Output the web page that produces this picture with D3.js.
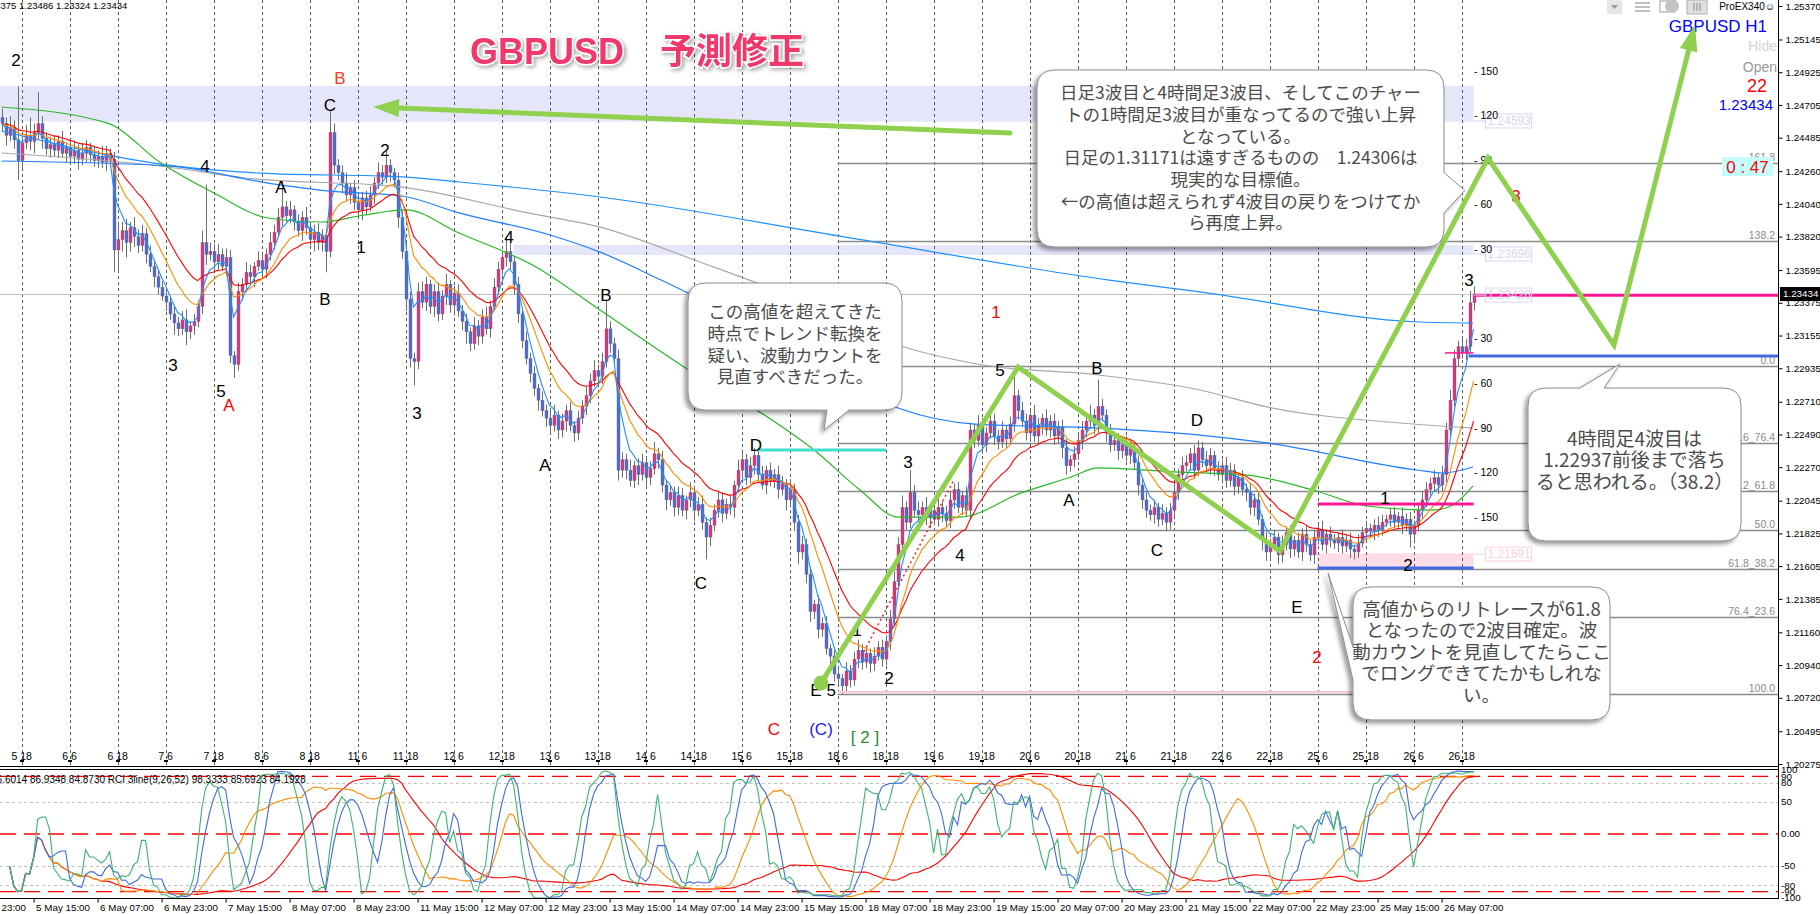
<!DOCTYPE html>
<html><head><meta charset="utf-8">
<script src="https://d3js.org/d3.v7.min.js"></script>
<style>
html,body{margin:0;padding:0;background:#fff;overflow:hidden}
svg{display:block}
</style></head><body>
<svg id="chart" width="1820" height="914"></svg>
<script>
// ---------------- DATA ----------------
const priceTicks = [1.25370,1.25145,1.24925,1.24705,1.24485,1.24260,1.24040,1.23820,1.23595,1.23375,1.23155,1.22935,1.22710,1.22490,1.22270,1.22045,1.21825,1.21605,1.21385,1.21160,1.20940,1.20720,1.20495,1.20275];
const mainTimeLabels = ["5 18","6 6","6 18","7 6","7 18","8 6","8 18","11 6","11 18","12 6","12 18","13 6","13 18","14 6","14 18","15 6","15 18","18 6","18 18","19 6","19 18","20 6","20 18","21 6","21 18","22 6","22 18","25 6","25 18","26 6","26 18"];
const bottomTimeLabels = ["4 May 23:00","5 May 15:00","6 May 07:00","6 May 23:00","7 May 15:00","8 May 07:00","8 May 23:00","11 May 15:00","12 May 07:00","12 May 23:00","13 May 15:00","14 May 07:00","14 May 23:00","15 May 15:00","18 May 07:00","18 May 23:00","19 May 15:00","20 May 07:00","20 May 23:00","21 May 15:00","22 May 07:00","22 May 23:00","25 May 15:00","26 May 07:00"];

// hourly closes, pips above 1.2000
const firstOpen = 462;
const closePips = [
458,450,455,447,433,445,450,446,452,458,448,441,
444,440,446,438,442,436,440,434,438,442,437,433,
436,432,438,434,373,380,386,378,388,382,376,384,
370,362,355,348,342,338,330,324,320,326,318,322,
325,335,378,370,372,365,370,362,368,302,296,345,
350,358,355,362,366,360,370,378,385,395,402,396,
400,392,386,395,388,380,385,378,383,372,452,430,
425,418,410,415,405,400,408,402,410,418,425,422,
430,425,420,395,372,340,300,298,345,338,350,335,
345,330,342,350,336,344,332,325,318,310,322,315,
328,320,335,348,360,368,372,365,350,330,312,300,
290,280,272,265,260,255,262,252,258,265,255,250,
260,268,275,285,292,288,298,320,310,300,225,232,
225,218,228,222,230,220,226,236,232,215,205,210,
200,208,198,205,210,198,202,190,180,188,198,205,
196,202,200,215,225,232,220,228,235,222,215,225,
218,222,212,216,205,212,190,170,175,155,130,135,
118,122,105,100,88,85,80,90,84,98,104,96,
102,95,100,106,98,110,125,150,175,200,190,210,
198,195,200,193,198,192,200,196,191,205,212,200,
208,198,252,245,255,242,250,258,248,244,252,246,
256,275,265,258,250,262,248,255,260,252,258,248,
254,240,228,232,236,245,252,258,262,255,268,262,
250,242,245,238,242,235,240,230,215,205,198,195,
200,192,196,190,198,210,222,228,230,236,225,240,
232,228,235,226,222,228,218,225,214,220,212,210,
200,205,192,178,170,175,180,168,175,183,172,178,
170,182,175,168,180,185,175,182,178,176,180,174,
178,172,170,176,183,186,184,188,185,190,192,195,
190,194,188,192,182,188,198,205,212,216,220,215,
222,252,272,300,308,304,308,337.5,343.4];
// upper / lower wick lengths in pips
const upWick = [
6,4,8,5,36,5,7,12,6,21,5,4, 5,6,4,7,3,5,6,4,7,5,3,6, 4,7,5,3,5,12,6,8,4,7,5,6,
4,6,3,5,4,6,3,5,4,6,7,3, 5,4,8,39,6,5,7,4,6,5,3,6, 4,7,5,3,6,5,4,7,5,6,18,4,
6,3,5,4,7,3,5,6,4,3,15,6, 4,5,7,3,5,6,4,5,6,4,7,5, 10,4,3,5,4,6,5,4,6,7,5,3,
5,6,4,7,3,5,6,4,5,3,6,4, 5,7,4,6,5,4,10,6,4,5,3,6, 4,5,3,6,4,5,7,3,5,4,6,3,
5,4,6,5,7,4,6,19,5,4,6,5, 4,7,3,5,6,4,5,8,4,6,3,5, 4,6,5,3,7,4,5,6,3,5,4,6,
5,4,6,3,7,5,4,6,5,4,6,3, 5,4,6,5,3,7,4,5,6,4,5,3, 6,4,5,3,4,5,3,6,4,5,7,4,
5,3,6,4,5,4,6,7,5,8,4,15, 5,6,4,7,3,5,6,4,5,6,4,5, 3,6,5,4,7,5,4,6,5,4,6,3,
5,18,4,6,5,4,7,5,3,6,4,5, 4,5,6,3,5,4,6,5,7,4,18,5, 4,6,3,5,4,6,5,3,5,4,6,4,
5,3,6,4,5,7,4,6,5,4,6,5, 4,6,5,3,5,4,6,5,4,3,5,4, 6,4,5,3,6,4,5,3,6,4,5,3,
5,4,6,3,5,4,6,3,5,4,3,5, 4,5,3,6,4,5,3,4,6,5,3,4, 5,3,6,4,5,3,4,6,5,4,5,3,
6,5,7,6,4,6,5,8,5.2];
const dnWick = [
5,7,4,6,13,5,4,6,8,5,7,4, 6,4,5,3,6,4,5,7,4,6,5,4, 5,4,6,5,15,14,8,10,6,7,5,4,
6,4,7,5,3,6,4,8,5,4,9,5, 6,4,5,7,4,6,5,3,6,5,9,4, 6,5,4,7,3,5,6,4,5,3,6,4,
5,6,4,7,5,4,8,5,6,14,4,6, 5,7,4,6,5,4,7,5,3,6,4,5, 4,6,5,7,5,8,6,16,5,4,6,5,
7,5,4,6,5,7,4,6,8,5,4,6, 5,4,6,3,5,4,6,5,7,6,5,4, 6,5,7,4,6,5,4,6,5,7,4,6,
5,4,6,5,4,6,5,4,6,5,7,5, 6,4,5,7,4,6,5,4,6,5,7,4, 6,5,4,6,5,7,4,5,15,6,4,5,
6,4,5,7,4,6,5,4,6,5,3,6, 4,5,6,4,7,5,6,8,5,6,7,5, 6,5,4,6,5,4,6,4,5,4,6,5,
4,6,5,3,5,4,6,5,4,6,5,4, 5,6,4,5,7,4,5,6,4,5,6,4, 5,4,6,5,4,6,5,4,6,5,4,6,
4,5,6,4,5,6,4,5,6,4,5,6, 5,7,6,4,5,4,6,5,4,6,5,4, 6,5,4,6,5,4,6,5,7,6,5,4,
6,5,4,6,5,4,5,6,4,5,6,4, 5,4,6,5,4,6,5,4,6,5,4,6, 5,6,4,7,6,5,4,6,5,4,6,5,
4,6,5,4,6,5,4,6,5,4,6,5, 4,6,5,4,3,5,4,6,5,4,3,5, 4,5,6,4,9,5,4,6,5,4,5,6,
4,5,6,4,5,4,5,4,5.1];

// long moving averages: [bar, pips]
const maGreen = [[0,469.1],[26.35,458.4],[39.85,431.5],[53.1,411.3],[66.6,394.5],[79.85,391.8],[90.6,396.5],[101.1,399.9],[114.35,384.4],[133.6,361.6],[149.6,332.7],[172.6,291.0],[192.6,258.7],[203.1,238.6],[214.6,211.7],[224.1,193.5],[239.6,193.5],[254.85,209.7],[267.35,220.4],[274.1,226.5],[293.1,223.8],[311.35,221.7],[327.85,211.7],[341.35,200.9],[357.85,198.2],[362.85,201.6],[367.85,214.4]];
const maGray = [[0,438.2],[41.6,428.8],[60.85,421.4],[100.1,415.3],[131.6,397.9],[149.6,388.4],[174.6,364.9],[199.6,339.4],[224.1,309.1],[245.35,295.7],[274.1,289.0],[299.6,278.9],[316.35,267.5],[349.6,256.7],[367.85,253.3]];
const maBlueUpper = [[0,453.0],[41.6,430.1],[64.6,424.7],[100.1,422.1],[114.35,418.7],[149.6,408.6],[212.1,381.1],[276.85,352.8],[299.6,344.8],[354.6,324.6],[367.85,323.9]];
const maBlueLower = [[0,432.8],[41.6,429.5],[66.6,418.0],[82.1,412.6],[100.1,409.3],[114.35,397.9],[137.1,383.1],[149.6,371.6],[164.85,352.8],[172.6,342.7],[199.6,303.1],[224.1,266.8],[243.35,256.0],[274.6,253.3],[299.6,248.6],[316.35,243.3],[353.85,225.1],[360.35,223.1],[367.85,227.1]];

// Fibonacci retracement
const fib = {bar0:209, low:74.5, high:295.0};
const fibLevels = [{r:0,label:"100.0"},{r:0.236,label:"76.4_23.6"},{r:0.382,label:"61.8_38.2"},{r:0.5,label:"50.0"},{r:0.618,label:"38.2_61.8"},{r:0.764,label:"23.6_76.4"},{r:1,label:"0.0"},{r:1.382,label:"138.2"},{r:1.618,label:"161.8"}];

// rectangles (bar range, price range in pips)
const bands = [
  {b0:-2, b1:368, top:483.2, bottom:459.3, color:"#e6e6fa"},
  {b0:128, b1:368, top:376.4, bottom:369.6, color:"#e6e6fa"},
  {b0:328.85, b1:368, top:169.1, bottom:159.2, color:"#ffdde6"}
];
// horizontal lines (b1 null -> to price axis)
const hLines = [
  {b0:209.1, b1:368, v:75.9, color:"#ffcad8", w:2},
  {b0:188.85, b1:221.1, v:238.6, color:"#40e0d0", w:3},
  {b0:329, b1:368, v:202.3, color:"#ff1493", w:3},
  {b0:329, b1:368, v:159.2, color:"#4169e1", w:3},
  {b0:360.85, b1:368, v:303.8, color:"#ff1493", w:1.5},
  {b0:366.85, b1:null, v:301.7, color:"#4169e1", w:3},
  {b0:368, b1:null, v:342.6, color:"#ff1493", w:3}
];
const priceBoxes = [
  {text:"1.24593", v:459.7, color:"#d6d6f3"},
  {text:"1.23696", v:370.3, color:"#d6d6f3"},
  {text:"1.23426", v:342.7, color:"#d6d6f3"},
  {text:"1.21691", v:168.6, color:"#ffd0dc"}
];
const pipOffsets = [150,120,90,60,30,-30,-60,-90,-120,-150];

// wave count labels: text, bar, pips, colour
const waveLabels = [
  ["2",3.6,500.7,"#000"],["B",84.6,488.6,"#ff3a1a"],["C",82.1,470.5,"#000"],["4",50.85,429.5,"#000"],
  ["A",69.85,415.3,"#000"],["2",95.85,440.2,"#000"],["1",89.85,375.0,"#000"],["B",80.85,340.1,"#000"],
  ["3",42.85,295.7,"#000"],["5",54.85,278.2,"#000"],["A",56.85,268.8,"#ff0000"],["4",126.85,381.7,"#000"],
  ["3",103.85,263.4,"#000"],["A",135.85,228.5,"#000"],["B",151.1,342.7,"#000"],["C",174.85,149.2,"#000"],
  ["D",188.6,241.9,"#000"],["1",248.6,331.3,"#ff0000"],["5",249.6,292.3,"#000"],["B",273.85,293.7,"#000"],
  ["3",226.6,230.5,"#000"],["4",239.6,168.0,"#000"],["A",266.85,205.0,"#000"],["C",288.85,171.3,"#000"],
  ["D",298.85,258.7,"#000"],["1",213.85,117.6,"#000"],["2",221.85,85.3,"#000"],["E",203.6,77.2,"#000"],
  ["5",207.4,77.2,"#000"],["E",323.85,133.0,"#000"],["2",328.85,99.4,"#ff0000"],["1",345.85,206.3,"#000"],
  ["2",351.6,161.2,"#000"],["3",366.85,352.8,"#000"],["3",378.6,409.3,"#ff0000"],
  ["C",193.1,51.0,"#ff0000"],["(C)",204.85,51.0,"#2020ff"],["[ 2 ]",215.85,45.6,"#2e8b2e"]
];

// projected wave path and arrow (bar, pips)
const wavePath = [[204.85,81.9],[254.1,294.3],[319.6,170.6],[371.6,434.8],[403.1,309.1],[423.35,524.2]];
const arrowLeft = [[252.1,451.6],[92.85,469.1]];
const dottedTrend = [[215,100],[238,218]];

// speech bubbles
const callouts = [
  {box:[258.85,494.0,360.6,375.0], side:"right", a:425.0, b:398.0, tip:[365.8,413.0], fs:17.5, top:23, lh:21.7,
   lines:["日足3波目と4時間足3波目、そしてこのチャー","トの1時間足3波目が重なってるので強い上昇","となっている。","日足の1.31171は遠すぎるものの\u30001.24306は","現実的な目標値。","←の高値は超えられず4波目の戻りをつけてか","ら再度上昇。"]},
  {box:[171.6,350.8,225.1,265.4], side:"bottom", a:206.35, b:211.85, tip:[205.6,252.0], fs:17.5, top:29, lh:21.7,
   lines:["この高値を超えてきた","時点でトレンド転換を","疑い、波動カウントを","見直すべきだった。"]},
  {box:[381.6,280.2,434.85,177.4], side:"top", a:394.6, b:400.6, tip:[404.6,296.4], fs:19, top:51, lh:21.5,
   lines:["4時間足4波目は","1.22937前後まで落ち","ると思われる。（38.2）"]},
  {box:[337.85,146.5,402.1,57.1], side:"left", a:106.1, b:83.9, tip:[331.6,155.9], fs:18.5, top:22, lh:21.5,
   lines:["高値からのリトレースが61.8","となったので2波目確定。波","動カウントを見直してたらここ","でロングできてたかもしれな","い。"]}
];

// ---------------- SETUP ----------------
const FONT = '"Liberation Sans", Arial, sans-serif';
const JP = '"Noto Sans CJK JP", "Noto Sans CJK SC", sans-serif';
const AX = 1778;
const P = v => 1.2 + v/10000;
const x = d3.scaleLinear().domain([0,368]).range([1.6,1473.6]);
const y = d3.scaleLinear().domain([1.20275,1.25370]).range([764,6]);
const yp = v => y(P(v));
const ry = d3.scaleLinear().domain([-100,100]).range([898,770]);

const svg = d3.select('#chart');
const defs = svg.append('defs');
defs.append('clipPath').attr('id','mainClip').append('rect').attr('x',0).attr('y',0).attr('width',AX).attr('height',766);
defs.append('clipPath').attr('id','indClip').append('rect').attr('x',0).attr('y',770).attr('width',AX).attr('height',128);
const f1 = defs.append('filter').attr('id','bubbleShadow').attr('x','-10%').attr('y','-10%').attr('width','125%').attr('height','130%');
f1.append('feDropShadow').attr('dx',-3).attr('dy',3).attr('stdDeviation',2).attr('flood-color','#000').attr('flood-opacity',0.4);
const f2 = defs.append('filter').attr('id','titleShadow').attr('x','-10%').attr('y','-30%').attr('width','120%').attr('height','170%');
f2.append('feDropShadow').attr('dx',2).attr('dy',2).attr('stdDeviation',2).attr('flood-color','#000').attr('flood-opacity',0.35);

const bars = closePips.map((c,i)=>{
  const o = i ? closePips[i-1] : firstOpen;
  return {i, o:P(o), c:P(c), h:P(Math.max(o,c)+upWick[i]), l:P(Math.min(o,c)-dnWick[i])};
});
const closes = bars.map(b=>b.c);
function ema(arr,n){const k=2/(n+1);let e=arr[0];return arr.map((v,i)=>{e=i?v*k+e*(1-k):v;return e;});}
function rci(vals,n){
  return vals.map((_,t)=>{
    const m=Math.min(n,t+1); if(m<3) return null;
    const w=vals.slice(t-m+1,t+1);
    const idx=w.map((v,j)=>j).sort((a,b)=>w[b]-w[a]);
    const pr=new Array(m); let k=0;
    while(k<m){let k2=k;while(k2+1<m&&w[idx[k2+1]]===w[idx[k]])k2++;const r=(k+k2)/2+1;for(let q=k;q<=k2;q++)pr[idx[q]]=r;k=k2+1;}
    let s=0; for(let j=0;j<m;j++){const dr=m-j;s+=(dr-pr[j])**2;}
    return (1-6*s/(m*(m*m-1)))*100;
  });
}

// ---------------- MAIN PANEL ----------------
const main = svg.append('g').attr('clip-path','url(#mainClip)');
main.selectAll('rect.band').data(bands).join('rect')
  .attr('x',d=>x(d.b0)).attr('width',d=>x(d.b1)-x(d.b0))
  .attr('y',d=>yp(d.top)).attr('height',d=>yp(d.bottom)-yp(d.top)).attr('fill',d=>d.color);

const mainTicks = mainTimeLabels.map((_,k)=>5+12*k);
main.selectAll('line.vg').data(mainTicks).join('line')
  .attr('x1',d=>Math.round(x(d))+0.5).attr('x2',d=>Math.round(x(d))+0.5)
  .attr('y1',0).attr('y2',766).attr('stroke','#5a5a5a').attr('stroke-dasharray','3,3');

// fib
const fibG = main.append('g');
fibLevels.forEach(f=>{
  const yy = Math.round(yp(fib.low + f.r*(fib.high-fib.low)))+0.5;
  fibG.append('line').attr('x1',x(fib.bar0)).attr('x2',AX).attr('y1',yy).attr('y2',yy).attr('stroke','#8a8a8a').attr('stroke-width',1.3);
  fibG.append('text').attr('x',AX-3).attr('y',yy-3).attr('text-anchor','end').attr('font-family',FONT).attr('font-size',10.5).attr('fill','#8a8a8a').text(f.label);
});

// bid line
const bid = closePips[closePips.length-1];
main.append('line').attr('x1',0).attr('x2',AX).attr('y1',Math.round(yp(bid))+0.5).attr('y2',Math.round(yp(bid))+0.5).attr('stroke','#c4c4c4');

// candles
main.selectAll('line.wick').data(bars).join('line')
  .attr('x1',d=>Math.round(x(d.i))+0.5).attr('x2',d=>Math.round(x(d.i))+0.5)
  .attr('y1',d=>y(d.h)).attr('y2',d=>y(d.l)).attr('stroke','#6e6e6e').attr('stroke-width',1);
main.selectAll('rect.body').data(bars).join('rect')
  .attr('x',d=>Math.round(x(d.i))-1).attr('width',3)
  .attr('y',d=>y(Math.max(d.o,d.c))).attr('height',d=>Math.max(1,Math.abs(y(d.o)-y(d.c))))
  .attr('fill',d=>d.c>=d.o?'#d93482':'#4b6bd0').attr('stroke','#6e6e6e').attr('stroke-width',0.4);

// long MAs
const lineBP = d3.line().x(d=>x(d[0])).y(d=>yp(d[1])).curve(d3.curveMonotoneX);
[[maGray,'#a8a8a8'],[maBlueUpper,'#1e90ff'],[maBlueLower,'#1e7fff'],[maGreen,'#28b828']].forEach(([arr,c])=>{
  main.append('path').attr('d',lineBP(arr)).attr('fill','none').attr('stroke',c).attr('stroke-width',1.2);
});
// short EMAs from closes
const lineIdx = d3.line().x((d,i)=>x(i)).y(d=>y(d));
[[21,'#ff0000'],[12,'#ff8c00'],[5,'#1e90ff']].forEach(([n,c])=>{
  main.append('path').attr('d',lineIdx(ema(closes,n))).attr('fill','none').attr('stroke',c).attr('stroke-width',1.1);
});

// horizontal objects
main.selectAll('line.hl').data(hLines).join('line')
  .attr('x1',d=>x(d.b0)).attr('x2',d=>d.b1===null?AX:x(d.b1))
  .attr('y1',d=>yp(d.v)).attr('y2',d=>yp(d.v)).attr('stroke',d=>d.color).attr('stroke-width',d=>d.w);
main.append('path').attr('d',d3.line().x(d=>x(d[0])).y(d=>yp(d[1]))(dottedTrend))
  .attr('stroke','#ff2020').attr('stroke-width',1.5).attr('stroke-dasharray','2,3').attr('fill','none');

// price boxes
priceBoxes.forEach(b=>{
  const yy=yp(b.v), x0=x(368)+12;
  main.append('line').attr('x1',x(368)).attr('x2',x0).attr('y1',yy).attr('y2',yy).attr('stroke',b.color);
  main.append('rect').attr('x',x0).attr('y',yy-7).attr('width',46).attr('height',14).attr('fill','none').attr('stroke',b.color);
  main.append('text').attr('x',x0+2).attr('y',yy).attr('dy','0.35em').attr('font-family',FONT).attr('font-size',12).attr('fill',b.color).text(b.text);
});
// pip distance labels
main.selectAll('text.pip').data(pipOffsets).join('text')
  .attr('x',x(368)+0.5).attr('y',d=>yp(bid+d)).attr('dy','0.35em')
  .attr('font-family',FONT).attr('font-size',10.5).attr('fill','#000')
  .text(d=>'- '+Math.abs(d));

// wave labels
main.selectAll('text.wl').data(waveLabels).join('text')
  .attr('x',d=>x(d[1])).attr('y',d=>yp(d[2])).attr('dy','0.36em').attr('text-anchor','middle')
  .attr('font-family',FONT).attr('font-size',17).attr('fill',d=>d[3]).text(d=>d[0]);

// main time labels
main.selectAll('text.mt').data(mainTicks).join('text')
  .attr('x',d=>x(d)).attr('y',756).attr('dy','0.35em').attr('text-anchor','middle')
  .attr('font-family',FONT).attr('font-size',10.5).attr('fill','#000')
  .text((d,i)=>mainTimeLabels[i]);
main.selectAll('rect.mtk').data(mainTicks).join('rect')
  .attr('x',d=>Math.round(x(d))-2).attr('y',760).attr('width',4).attr('height',2).attr('fill','#000');

// header
svg.append('text').attr('x',-18).attr('y',6).attr('dy','0.35em').attr('font-family',FONT).attr('font-size',9.5).attr('fill','#000').text('1.23375 1.23486 1.23324 1.23434');

// ---------------- top right info ----------------
const tr = svg.append('g');
tr.append('rect').attr('x',1607).attr('y',0).attr('width',15).attr('height',14).attr('fill','#e6e6e6');
tr.append('path').attr('d','M1611,5 L1618,5 L1614.5,9 Z').attr('fill','#999');
[3,7,11].forEach(o=>tr.append('line').attr('x1',1635).attr('x2',1650).attr('y1',o).attr('y2',o).attr('stroke','#aaa').attr('stroke-width',1.5));
tr.append('rect').attr('x',1660).attr('y',1).attr('width',8).attr('height',11).attr('fill','none').attr('stroke','#999');
tr.append('circle').attr('cx',1672).attr('cy',6).attr('r',7).attr('fill','#c4c4c4');
tr.append('rect').attr('x',1687).attr('y',0).attr('width',20).attr('height',14).attr('fill','#e0e0e0').attr('stroke','#b0b0b0');
[1694,1697,1700].forEach(o=>tr.append('line').attr('x1',o).attr('x2',o).attr('y1',3).attr('y2',11).attr('stroke','#888'));
tr.append('text').attr('x',1775).attr('y',6).attr('dy','0.35em').attr('text-anchor','end').attr('font-family',FONT).attr('font-size',10).attr('fill','#000').text('ProEX340☺');
tr.append('text').attr('x',1767).attr('y',26).attr('dy','0.36em').attr('text-anchor','end').attr('font-family',FONT).attr('font-size',17).attr('fill','#0000ff').text('GBPUSD H1');
tr.append('text').attr('x',1777).attr('y',46).attr('dy','0.36em').attr('text-anchor','end').attr('font-family',FONT).attr('font-size',14).attr('fill','#d4d4d4').text('Hide');
tr.append('text').attr('x',1777).attr('y',67).attr('dy','0.36em').attr('text-anchor','end').attr('font-family',FONT).attr('font-size',14).attr('fill','#999').text('Open');
tr.append('text').attr('x',1767).attr('y',86).attr('dy','0.36em').attr('text-anchor','end').attr('font-family',FONT).attr('font-size',18).attr('fill','#ff0000').text('22');
tr.append('text').attr('x',1773).attr('y',105).attr('dy','0.36em').attr('text-anchor','end').attr('font-family',FONT).attr('font-size',15).attr('fill','#0000ff').text('1.23434');
tr.append('rect').attr('x',1722).attr('y',157).attr('width',51).attr('height',19).attr('fill','#c4ffff');
tr.append('text').attr('x',1747.5).attr('y',166.5).attr('dy','0.36em').attr('text-anchor','middle').attr('font-family',FONT).attr('font-size',17).attr('fill','#ff0000').text('0 : 47');

// ---------------- green projection lines ----------------
const GREEN = '#8fd14f';
function arrowLine(pts, withDot){
  const px = pts.map(p=>[x(p[0]),yp(p[1])]);
  const n=px.length, T=px[n-1], Pp=px[n-2];
  const dx=T[0]-Pp[0], dy=T[1]-Pp[1], len=Math.hypot(dx,dy), ux=dx/len, uy=dy/len;
  const L=26, Wd=9, B=[T[0]-ux*L, T[1]-uy*L];
  const linePts = px.slice(0,n-1).concat([B]);
  svg.append('path').attr('d',d3.line()(linePts)).attr('fill','none').attr('stroke',GREEN).attr('stroke-width',5).attr('stroke-linejoin','miter').attr('stroke-linecap','round');
  svg.append('path').attr('d',`M${T[0]},${T[1]}L${B[0]-uy*Wd},${B[1]+ux*Wd}L${B[0]+uy*Wd},${B[1]-ux*Wd}Z`).attr('fill',GREEN);
  if(withDot) svg.append('circle').attr('cx',px[0][0]).attr('cy',px[0][1]).attr('r',7.5).attr('fill',GREEN);
}
arrowLine(arrowLeft,false);
arrowLine(wavePath,true);

// ---------------- callouts ----------------
function bubble(x1,y1,x2,y2,r,side,a,b,tx,ty){
  let p=`M${x1+r},${y1}`;
  if(side==='top') p+=`L${a},${y1}L${tx},${ty}L${b},${y1}`;
  p+=`L${x2-r},${y1}Q${x2},${y1} ${x2},${y1+r}`;
  if(side==='right') p+=`L${x2},${a}L${tx},${ty}L${x2},${b}`;
  p+=`L${x2},${y2-r}Q${x2},${y2} ${x2-r},${y2}`;
  if(side==='bottom') p+=`L${b},${y2}L${tx},${ty}L${a},${y2}`;
  p+=`L${x1+r},${y2}Q${x1},${y2} ${x1},${y2-r}`;
  if(side==='left') p+=`L${x1},${b}L${tx},${ty}L${x1},${a}`;
  p+=`L${x1},${y1+r}Q${x1},${y1} ${x1+r},${y1}Z`;
  return p;
}
callouts.forEach(c=>{
  const x1=x(c.box[0]), y1=yp(c.box[1]), x2=x(c.box[2]), y2=yp(c.box[3]);
  let a,b;
  if(c.side==='top'||c.side==='bottom'){a=x(c.a);b=x(c.b);} else {a=yp(c.a);b=yp(c.b);}
  if(a>b){const t=a;a=b;b=t;}
  const g=svg.append('g');
  g.append('path').attr('d',bubble(x1,y1,x2,y2,18,c.side,a,b,x(c.tip[0]),yp(c.tip[1])))
    .attr('fill','#fff').attr('stroke','#8c8c8c').attr('stroke-width',1).attr('filter','url(#bubbleShadow)');
  g.selectAll('text').data(c.lines).join('text')
    .attr('x',(x1+x2)/2).attr('y',(d,i)=>y1+c.top+i*c.lh).attr('dy','0.36em').attr('text-anchor','middle')
    .attr('font-family',JP).attr('font-size',c.fs).attr('fill','#4c4c4c').style('white-space','pre').text(d=>d);
});

// ---------------- title ----------------
svg.append('text').attr('x',637).attr('y',51).attr('dy','0.36em').attr('text-anchor','middle')
  .attr('font-family','"Liberation Sans", "Noto Sans CJK JP", sans-serif').attr('font-weight','bold').attr('font-size',36)
  .attr('fill','#f0386b').attr('stroke','#fff').attr('stroke-width',3).attr('paint-order','stroke')
  .attr('filter','url(#titleShadow)').text('GBPUSD\u3000予測修正');

// ---------------- separators & axes ----------------
svg.append('line').attr('x1',0).attr('x2',AX).attr('y1',766.5).attr('y2',766.5).attr('stroke','#000');
svg.append('line').attr('x1',0).attr('x2',AX).attr('y1',769.5).attr('y2',769.5).attr('stroke','#000');
svg.append('line').attr('x1',0).attr('x2',AX).attr('y1',898.5).attr('y2',898.5).attr('stroke','#000');
svg.append('line').attr('x1',AX+0.5).attr('x2',AX+0.5).attr('y1',0).attr('y2',899).attr('stroke','#000');

const yAxis = d3.axisRight(y).tickValues(priceTicks).tickFormat(d3.format('.5f')).tickSize(4).tickPadding(3);
const gY = svg.append('g').attr('transform',`translate(${AX+0.5},0)`).call(yAxis);
gY.select('.domain').remove();
gY.selectAll('text').attr('font-family',FONT).attr('font-size',9.8).attr('fill','#000');
gY.selectAll('line').attr('stroke','#000');
// current price tag
svg.append('rect').attr('x',AX+2).attr('y',yp(bid)-7).attr('width',40).attr('height',14).attr('fill','#000');
svg.append('text').attr('x',AX+5).attr('y',yp(bid)).attr('dy','0.35em').attr('font-family',FONT).attr('font-size',9.8).attr('fill','#fff').text('1.23434');

// ---------------- RCI panel ----------------
const ind = svg.append('g').attr('clip-path','url(#indClip)');
[90,0,-90].forEach(v=>ind.append('line').attr('x1',0).attr('x2',AX).attr('y1',ry(v)).attr('y2',ry(v)).attr('stroke','#ff0000').attr('stroke-width',1.4).attr('stroke-dasharray','16,8'));
[80,50,-50,-80].forEach(v=>ind.append('line').attr('x1',0).attr('x2',AX).attr('y1',Math.round(ry(v))+0.5).attr('y2',Math.round(ry(v))+0.5).attr('stroke','#c0c0c0').attr('stroke-dasharray','3,3'));
const rLine = d3.line().defined(d=>d!==null).x((d,i)=>x(i)).y(d=>ry(d));
[[52,'#ff0000'],[26,'#ff8c00'],[13,'#4169e1'],[9,'#3cb371']].forEach(([n,c])=>{
  ind.append('path').attr('d',rLine(rci(closes,n))).attr('fill','none').attr('stroke',c).attr('stroke-width',1.1);
});
svg.append('text').attr('x',-9).attr('y',779).attr('dy','0.35em').attr('font-family',FONT).attr('font-size',10).attr('fill','#000')
  .text('96.6014 86.9348 84.8730  RCI 3line(9,26,52) 98.3333 85.6923 84.1928');
[[100,'100'],[90,'90'],[80,'80'],[50,'50'],[0,'0.00'],[-50,'-50'],[-80,'-80'],[-90,'-90'],[-100,'-100']].forEach(([v,t])=>{
  svg.append('text').attr('x',AX+3).attr('y',ry(v)).attr('dy','0.35em').attr('font-family',FONT).attr('font-size',9.8).attr('fill','#000').text(t);
});

// bottom time axis
const bottomTicks = bottomTimeLabels.map((_,k)=>-8+16*k);
const xAxis = d3.axisBottom(x).tickValues(bottomTicks).tickFormat((d,i)=>bottomTimeLabels[i]).tickSize(4).tickPadding(2);
const gX = svg.append('g').attr('transform','translate(0,898.5)').call(xAxis);
gX.select('.domain').remove();
gX.selectAll('line').attr('stroke','#000');
gX.selectAll('text').attr('text-anchor','start').attr('x',2).attr('font-family',FONT).attr('font-size',9.8).attr('fill','#000');
</script></body></html>
